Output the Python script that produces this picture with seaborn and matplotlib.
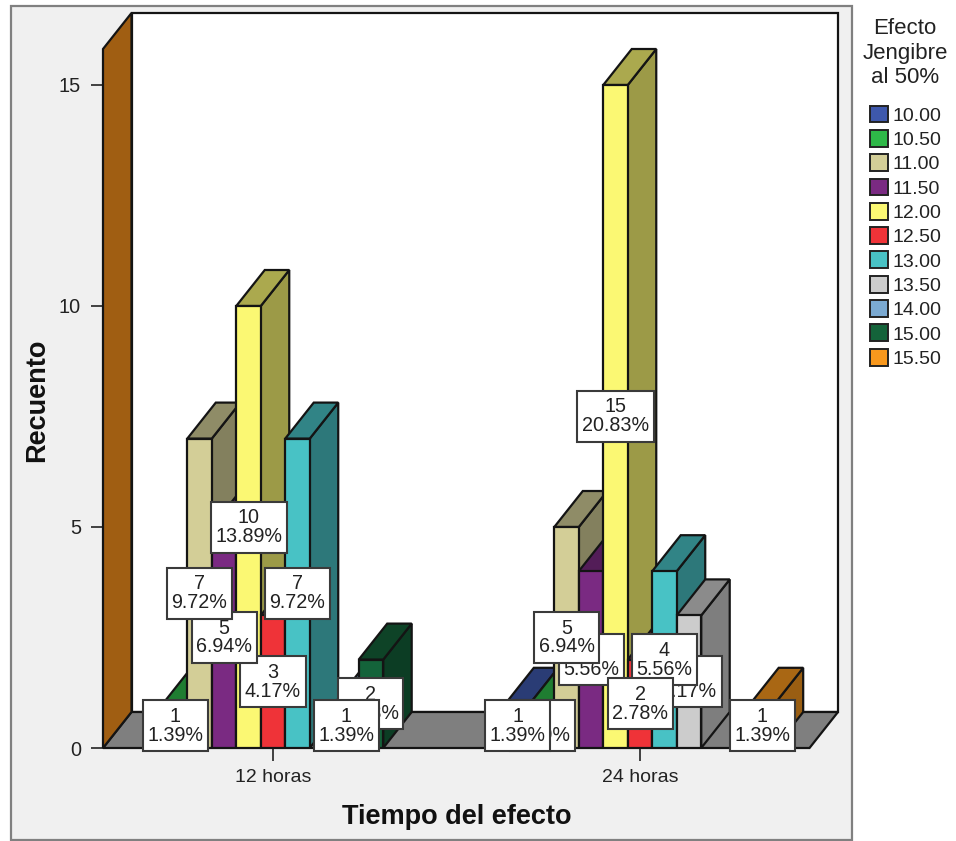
import matplotlib
matplotlib.use("Agg")
import matplotlib.pyplot as plt
from matplotlib.patches import Polygon, Rectangle, Patch
from matplotlib.colors import to_rgb
import pandas as pd
import seaborn as sns

# Recuento de casos por tiempo del efecto y nivel de efecto del jengibre
tiempos = ["12 horas", "24 horas"]
efectos = ["10.00", "10.50", "11.00", "11.50", "12.00", "12.50",
           "13.00", "13.50", "14.00", "15.00", "15.50"]
recuento_12 = [0, 1, 7, 5, 10, 3, 7, 0, 1, 2, 0]
recuento_24 = [1, 1, 5, 4, 15, 2, 4, 3, 0, 0, 1]
colores = ["#3E58AC", "#2EB848", "#D3CE97", "#7A2A82", "#FBF873", "#EF3338",
           "#48C2C5", "#CCCCCC", "#7BAAD2", "#14633A", "#F8981D"]
total = sum(recuento_12) + sum(recuento_24)

W, H = 956, 841
sns.set_theme(style="white")
plt.rcParams["font.family"] = ["Liberation Sans", "DejaVu Sans"]

filas = []
for tiempo, valores in zip(tiempos, [recuento_12, recuento_24]):
    for efecto, n in zip(efectos, valores):
        if n > 0:
            filas.append({"tiempo": tiempo, "efecto": efecto, "recuento": n})
tabla = pd.DataFrame(filas)

fig = plt.figure(figsize=(W / 100, H / 100), dpi=100, facecolor="white")

# Marco exterior gris claro, por debajo de los ejes
fig.add_artist(Rectangle((10.5 / W, 1 - 839.5 / H), 841 / W, 833.5 / H,
                         transform=fig.transFigure, facecolor="#F0F0F0",
                         edgecolor="#808080", linewidth=1.6, zorder=-1))

ax = fig.add_axes([103 / W, 1 - 748 / H, 735 / W, 735 / H])
ax.patch.set_alpha(0)
sns.barplot(data=tabla, x="tiempo", y="recuento", hue="efecto",
            order=tiempos, hue_order=efectos, palette=colores, saturation=1,
            width=0.734, gap=0, errorbar=None, legend=False,
            edgecolor="#141414", linewidth=1.6, ax=ax)
barras = sorted(ax.patches, key=lambda p: p.get_x())
barras = [b for b in barras if b.get_height() > 0]

px_x, px_y = 367.0, 44.2
ax.set_xlim((103 - 273) / px_x, (838 - 273) / px_x)
ax.set_ylim(0, 735 / px_y)
x0, x1 = ax.get_xlim()
y1 = ax.get_ylim()[1]

# Profundidad de la perspectiva, en unidades de datos
dx, dy = 28.5 / px_x, 36 / px_y

linea = dict(edgecolor="#141414", linewidth=1.6, joinstyle="miter")
# Pared del fondo, suelo y pared lateral
ax.add_patch(Polygon([(x0 + dx, dy), (x1, dy), (x1, y1), (x0 + dx, y1)],
                     facecolor="white", zorder=1, clip_on=False, **linea))
ax.add_patch(Polygon([(x0, 0), (x1 - dx, 0), (x1, dy), (x0 + dx, dy)],
                     facecolor="#7F7F7F", zorder=1.1, clip_on=False, **linea))
ax.add_patch(Polygon([(x0, 0), (x0 + dx, dy), (x0 + dx, y1), (x0, y1 - dy)],
                     facecolor="#A05E12", zorder=1.2, clip_on=False, **linea))

# Barras en seudo 3D: cara superior y lateral a partir de cada barra frontal
ancho = 0.734 / len(efectos)
lienzo = fig.canvas.get_renderer()
for i, b in enumerate(barras):
    x, w, h = b.get_x(), b.get_width(), b.get_height()
    base = to_rgb(b.get_facecolor())
    lateral = tuple(c * 0.62 for c in base)
    superior = tuple(c * 0.68 for c in base)
    z = 3 + i * 0.1
    ax.add_patch(Polygon([(x + w, 0), (x + w, h), (x + w + dx, h + dy), (x + w + dx, dy)],
                         facecolor=lateral, zorder=z, clip_on=False, **linea))
    ax.add_patch(Polygon([(x, h), (x + w, h), (x + w + dx, h + dy), (x + dx, h + dy)],
                         facecolor=superior, zorder=z + 0.01, clip_on=False, **linea))
    b.set_zorder(z + 0.02)
    b.set_joinstyle("miter")

    # Etiqueta con recuento y porcentaje en el centro de la barra
    centro = x + w / 2
    grupo = round(centro)
    nivel = round((centro - grupo) / ancho + 5)
    z_texto = 20 + (len(barras) - i) * 0.01
    if grupo == 1 and efectos[nivel] == "12.50":
        z_texto += 1
    etiqueta = ax.text(centro, h / 2, f"{h:.0f}\n{h / total * 100:.2f}%", ha="center",
                       va="center", fontsize=14.2, color="#222222", linespacing=1.0,
                       zorder=z_texto, clip_on=False)
    # Caja blanca de alto fijo y ancho ajustado al texto
    caja_w = (etiqueta.get_window_extent(lienzo).width + 9) / px_x
    caja_h = 51 / px_y
    ax.add_patch(Rectangle((centro - caja_w / 2, h / 2 - caja_h / 2), caja_w, caja_h,
                           facecolor="white", edgecolor="#3A3A3A", linewidth=1.5,
                           zorder=z_texto - 0.001, clip_on=False))

sns.despine(ax=ax, left=True, bottom=True, top=True, right=True)
ax.set_yticks([0, 5, 10, 15])
ax.set_xticks([0, 1], tiempos)
ax.tick_params(axis="y", length=9, width=1.3, color="#333333", labelsize=14.3,
               labelcolor="#222222", left=True, pad=7)
ax.tick_params(axis="x", length=9, width=1.3, color="#333333", labelsize=14,
               labelcolor="#222222", bottom=True, pad=6)
ax.set_xlabel("")
ax.set_ylabel("")
fig.text(457 / W, 1 - 817 / H, "Tiempo del efecto", ha="center", va="center",
         fontsize=19.5, fontweight="bold", color="#111111")
fig.text(37 / W, 1 - 400 / H, "Recuento", ha="center", va="center", rotation=90,
         fontsize=19.5, fontweight="bold", color="#111111")

manejadores = [Patch(facecolor=c, edgecolor="#222222", linewidth=1.4) for c in colores]
fig.legend(manejadores, efectos, loc="upper left", bbox_to_anchor=(854 / W, 1 - 90 / H),
           frameon=False, fontsize=14, handlelength=0.95, handleheight=0.95,
           handletextpad=0.25, labelspacing=0.27, borderpad=0.3, labelcolor="#222222")
fig.text(905 / W, 1 - 53 / H, "Efecto\nJengibre\nal 50%", ha="center", va="center",
         multialignment="center", fontsize=16, linespacing=1.2, color="#222222")

fig.savefig("out.png", dpi=100)
